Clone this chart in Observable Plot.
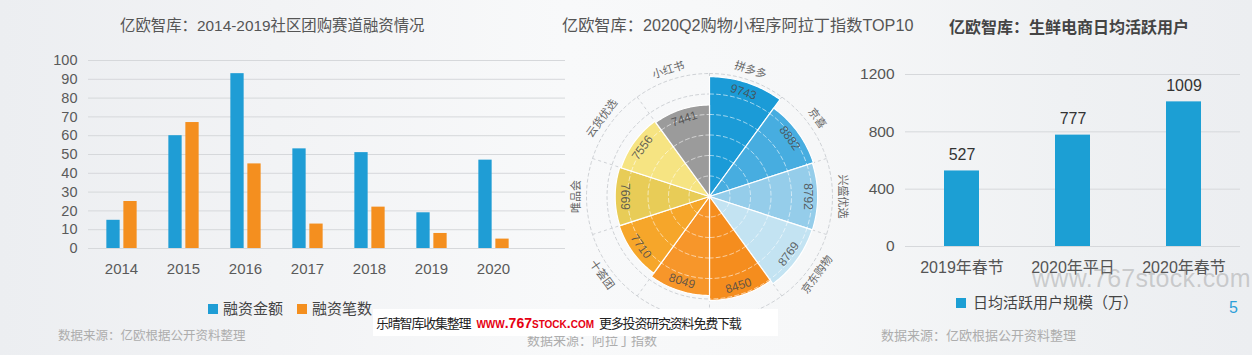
<!DOCTYPE html>
<html>
<head>
<meta charset="utf-8">
<script src="https://cdn.jsdelivr.net/npm/d3@7"></script>
<script src="https://cdn.jsdelivr.net/npm/@observablehq/plot@0.6"></script>
<style>
html,body{margin:0;padding:0;}
body{width:1252px;height:355px;overflow:hidden;position:relative;
 font-family:"Liberation Sans","Noto Sans CJK SC",sans-serif;
 background:linear-gradient(90deg,#eceef1 0%,#f2f3f5 22%,#f8f9fa 45%,#f6f7f8 65%,#eff1f3 85%,#eceef1 100%);}
.abs{position:absolute;white-space:nowrap;}
.title{color:#555;line-height:1;}
.src{color:#adadad;font-size:13px;line-height:1;}
.leg{display:flex;align-items:center;color:#444;font-size:15px;line-height:1;}
.sw{display:inline-block;width:10px;height:10px;margin-right:5px;}
#left,#rose,#right{position:absolute;top:0;}
#left{left:0;}
#rose{left:549px;top:36px;}
#right{left:850px;}
#banner{position:absolute;left:373px;top:309px;width:405px;height:27px;background:#fff;z-index:10;
 display:flex;align-items:center;font-size:13px;color:#222;}
</style>
</head>
<body>
<div class="abs title" id="t1" style="left:120px;top:18px;font-size:15.4px;">亿欧智库：2014-2019社区团购赛道融资情况</div>
<div class="abs title" id="t2" style="left:562px;top:17px;font-size:16.2px;">亿欧智库：2020Q2购物小程序阿拉丁指数TOP10</div>
<div class="abs title" id="t3" style="left:949px;top:20px;font-size:16px;font-weight:bold;color:#444;">亿欧智库：生鲜电商日均活跃用户</div>

<div id="left"></div>
<div id="rose"></div>
<div id="right"></div>

<div class="abs leg" id="leg1" style="left:208px;top:301px;"></div>
<div class="abs leg" id="leg3" style="left:956px;top:295px;"></div>

<div class="abs" id="wm" style="left:1032px;top:264px;font-size:25px;color:rgba(140,140,140,0.38);letter-spacing:0.3px;">www.767stock.com</div>
<div class="abs" id="pg" style="left:1229px;top:299px;font-size:16px;color:#2d9fd9;">5</div>

<div class="abs src" style="left:58px;top:330px;font-size:12.5px;">数据来源：亿欧根据公开资料整理</div>
<div class="abs src" style="left:527px;top:334px;">数据来源：阿拉丁指数</div>
<div class="abs src" style="left:881px;top:329px;">数据来源：亿欧根据公开资料整理</div>

<div id="banner"><span style="margin-left:3px;letter-spacing:-1.2px;">乐晴智库收集整理</span><span style="margin-left:6px;color:#e60012;font-weight:bold;font-variant:small-caps;font-size:14px;font-family:'Liberation Sans',sans-serif;">www.767stock.com</span><span style="margin-left:5px;letter-spacing:-1.2px;">更多投资研究资料免费下载</span></div>

<script>
// ---------- Data: left chart ----------
const years = ["2014","2015","2016","2017","2018","2019","2020"];
const fundAmount = [15, 60, 93, 53, 51, 19, 47];   // 融资金额
const fundDeals  = [25, 67, 45, 13, 22, 8, 5];     // 融资笔数
const fundSeries = ["融资金额", "融资笔数"];
const fundColors = ["#1f9dd5", "#f48f1f"];
const fundTicks = [0,10,20,30,40,50,60,70,80,90,100];

// ---------- Data: rose chart ----------
const apps = ["拼多多","京喜","兴盛优选","京东购物","苏宁易购","蘑菇街","十荟团","唯品会","云货优选","小红书"];
const aladdin = [9743, 8882, 8792, 8769, 8450, 8049, 7710, 7669, 7556, 7441];
const appColors = ["#1b9bd7","#47ade0","#95cdea","#c3e3f2","#f58d1e","#f7962a","#f6a62a","#e8cc57","#f6e482","#9b9b9b"];
const roseRings = [1667, 3333, 5000, 6667, 8333, 10000];

// ---------- Data: right chart ----------
const periods = ["2019年春节","2020年平日","2020年春节"];
const dau = [527, 777, 1009];
const dauSeries = "日均活跃用户规模（万）";
const dauColor = "#1c9fd4";
const dauTicks = [0, 400, 800, 1200];

const FONT = "Liberation Sans, Noto Sans CJK SC, sans-serif";

// ---------- Left chart ----------
const fundData = years.flatMap((y, i) => [
  {year: y, series: fundSeries[0], value: fundAmount[i]},
  {year: y, series: fundSeries[1], value: fundDeals[i]}
]);
const left = Plot.plot({
  width: 570, height: 300,
  marginLeft: 88, marginRight: 5, marginTop: 60, marginBottom: 52,
  style: {background: "transparent", fontFamily: FONT, color: "#5a5a5a", overflow: "visible"},
  x: {domain: years, range: [87.6, 526.4], padding: 0, label: null, axis: null},
  y: {domain: [0, 100], label: null, axis: null},
  color: {domain: fundSeries, range: fundColors},
  marks: [
    Plot.gridY(fundTicks, {stroke: "#d6d8db", strokeOpacity: 1}),
    Plot.axisY(fundTicks, {tickSize: 0, tickPadding: 11, fontSize: 14.5, label: null, tickFormat: d => String(d)}),
    Plot.axisX({tickSize: 0, tickPadding: 15, fontSize: 15, label: null}),
    Plot.barY(fundData.filter(d => d.series === fundSeries[0]),
      {x: "year", y: "value", fill: "series", insetLeft: 24.35, insetRight: 24.35, dx: -8}),
    Plot.barY(fundData.filter(d => d.series === fundSeries[1]),
      {x: "year", y: "value", fill: "series", insetLeft: 24.35, insetRight: 24.35, dx: 9})
  ]
});
document.getElementById("left").append(left);

const leg1 = document.getElementById("leg1");
fundSeries.forEach((s, i) => {
  const sw = document.createElement("span"); sw.className = "sw"; sw.style.background = fundColors[i];
  const tx = document.createElement("span"); tx.textContent = s; tx.style.marginRight = i === 0 ? "14px" : "0";
  leg1.append(sw, tx);
});

// ---------- Rose chart ----------
const RAD = Math.PI / 180;
const stepA = 360 / apps.length;
const PX = 10000 / 123;      // value units per pixel of radius
const D = 160 * PX;          // half-extent of the square frame

const slicePts = apps.flatMap((name, i) => {
  const a0 = i * stepA, a1 = (i + 1) * stepA, v = aladdin[i];
  const pts = [{name, x: 0, y: 0}];
  for (let a = a0; a <= a1 + 1e-9; a += 1) pts.push({name, x: v * Math.sin(a * RAD), y: v * Math.cos(a * RAD)});
  pts.push({name, x: 0, y: 0});
  return pts;
});
const ringPts = roseRings.flatMap(r => d3.range(0, 361, 2).map(a => ({ring: r, x: r * Math.sin(a * RAD), y: r * Math.cos(a * RAD)})));
const innerRingPts = apps.flatMap((name, i) => roseRings.filter(r => r < aladdin[i]).flatMap(r =>
  d3.range(i * stepA, (i + 1) * stepA + 0.5, 1).map(a => ({key: name + r, x: r * Math.sin(a * RAD), y: r * Math.cos(a * RAD)}))));
const spokes = apps.map((name, i) => ({a: i * stepA}));
const outerR = roseRings[roseRings.length - 1];
const mid = i => (i + 0.5) * stepA;
const nameRot = m => m <= 90 ? m : (m < 270 ? m - 180 : m - 360);
const numRot = m => m <= 90 ? m : (m <= 270 ? m - 180 : m - 360);
const nameR = 133 * PX;

const rose = Plot.plot({
  width: 320, height: 320, margin: 0,
  style: {background: "transparent", fontFamily: FONT, overflow: "visible"},
  x: {domain: [-D, D], axis: null},
  y: {domain: [-D, D], axis: null},
  color: {domain: apps, range: appColors},
  marks: [
    Plot.line(ringPts, {x: "x", y: "y", z: "ring", stroke: "#cfd2d6", strokeWidth: 1, strokeDasharray: "3,3"}),
    Plot.link(spokes, {x1: () => 0, y1: () => 0, x2: d => outerR * Math.sin(d.a * RAD), y2: d => outerR * Math.cos(d.a * RAD),
      stroke: "#cfd2d6", strokeWidth: 1, strokeDasharray: "3,3"}),
    Plot.line(slicePts, {x: "x", y: "y", z: "name", fill: "name", stroke: "#ffffff", strokeWidth: 1.2, curve: "linear"}),
    Plot.line(innerRingPts, {x: "x", y: "y", z: "key", stroke: "#ffffff", strokeOpacity: 0.6, strokeWidth: 1, strokeDasharray: "4,3"}),
    Plot.text(apps, {
      x: (d, i) => (aladdin[i] - 10 * PX) * Math.sin(mid(i) * RAD),
      y: (d, i) => (aladdin[i] - 10 * PX) * Math.cos(mid(i) * RAD),
      text: (d, i) => String(aladdin[i]),
      rotate: (d, i) => numRot(mid(i)),
      fontSize: 12, fill: "#4a4a4a", fillOpacity: 0.85
    }),
    Plot.text(apps, {
      x: (d, i) => nameR * Math.sin(mid(i) * RAD),
      y: (d, i) => nameR * Math.cos(mid(i) * RAD),
      text: d => d,
      rotate: (d, i) => nameRot(mid(i)),
      fontSize: 11, fill: "#666"
    })
  ]
});
document.getElementById("rose").append(rose);

// ---------- Right chart ----------
const dauData = periods.map((p, i) => ({period: p, value: dau[i]}));
const right = Plot.plot({
  width: 400, height: 300,
  marginLeft: 55, marginRight: 10, marginTop: 74, marginBottom: 54,
  style: {background: "transparent", fontFamily: FONT, color: "#555", overflow: "visible"},
  x: {domain: periods, paddingInner: 0.6866, paddingOuter: 0.343, label: null, axis: null},
  y: {domain: [0, 1200], label: null, axis: null},
  marks: [
    Plot.gridY(dauTicks, {stroke: "#d6d8db", strokeOpacity: 1}),
    Plot.axisY(dauTicks, {tickSize: 0, tickPadding: 11, fontSize: 15.5, label: null, tickFormat: d => String(d)}),
    Plot.axisX({tickSize: 0, tickPadding: 15, fontSize: 16, label: null}),
    Plot.barY(dauData, {x: "period", y: "value", fill: dauColor}),
    Plot.text(dauData, {x: "period", y: "value", text: d => String(d.value), dy: -16, fontSize: 16, fill: "#333"})
  ]
});
document.getElementById("right").append(right);

const leg3 = document.getElementById("leg3");
{
  const sw = document.createElement("span"); sw.className = "sw"; sw.style.background = dauColor; sw.style.marginRight = "7px";
  const tx = document.createElement("span"); tx.textContent = dauSeries;
  leg3.append(sw, tx);
}
</script>
</body>
</html>
